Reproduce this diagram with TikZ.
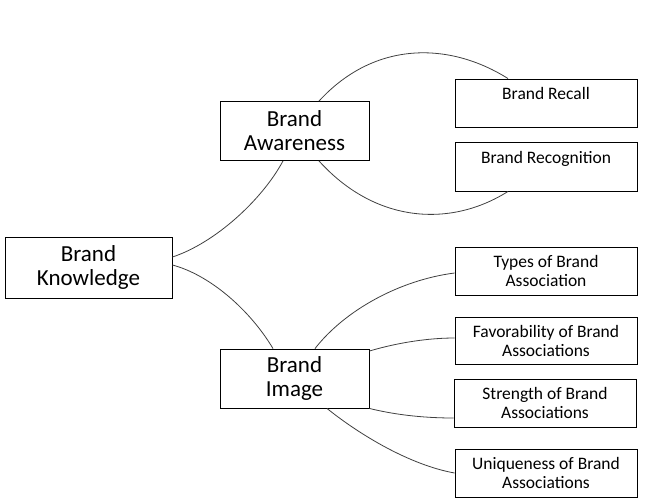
\documentclass[tikz,border=0pt]{standalone}
\usepackage{fontspec}
\setmainfont{Carlito}
\usetikzlibrary{positioning}

\begin{document}
\begin{tikzpicture}[x=1pt, y=-1pt,
        bigbox/.style={draw, line width=0.9pt, rectangle, align=center,
              minimum width=149pt, minimum height=59pt, inner sep=0pt,
              font=\fontsize{23}{24}\selectfont},
        leafbox/.style={draw, line width=0.9pt, rectangle, align=center,
              minimum width=182pt, minimum height=48pt, inner sep=0pt,
              font=\fontsize{17.5}{19}\selectfont},
        link/.style={draw=black!75, line width=0.8pt}]
        \useasboundingbox (0,0) rectangle (648,501);
        \node[bigbox, minimum width=167pt, minimum height=61pt]
            (know) at (88.5,267.5) {Brand\\Knowledge};
        \node[bigbox] (aware) at (294.5,131) {Brand\\Awareness};
        \node[bigbox] (image) at (294.5,378.5) {Brand\\Image};
        \node[leafbox] (recall) at (546,103) {Brand Recall\\~};
        \node[leafbox, minimum height=49pt]
            (recog) at (546,166.5) {Brand Recognition\\~};
        \node[leafbox] (types) at (546,271) {Types of Brand\\Association};
        \node[leafbox, minimum height=47pt]
            (favor) at (546,340.5) {Favorability of Brand\\Associations};
        \node[leafbox] (strength) at (545,403) {Strength of Brand\\Associations};
        \node[leafbox] (unique) at (546,473) {Uniqueness of Brand\\Associations};
        \draw[link] ([yshift=10.5pt]know.east)
            .. controls (215,243) and (262,200) .. ([xshift=-11.5pt]aware.south);
        \draw[link] ([yshift=2.5pt]know.east)
            .. controls (210,275) and (250,310) .. ([xshift=-21.5pt]image.north);
        \draw[link] ([xshift=24.5pt]aware.north)
            .. controls (375,40) and (450,42) .. ([xshift=-38pt]recall.north);
        \draw[link] ([xshift=24.5pt]aware.south)
            .. controls (375,223) and (450,228) .. ([xshift=-38pt]recog.south);
        \draw[link] ([xshift=20.5pt]image.north)
            .. controls (345,310) and (400,280) .. ([yshift=-2pt]types.west);
        \draw[link] ([yshift=27.5pt]image.east)
            .. controls (400,342) and (430,338) .. ([yshift=2.5pt]favor.west);
        \draw[link] (image.south east)
            .. controls (400,416) and (430,418) .. ([yshift=-15pt]strength.west);
        \draw[link] ([xshift=32.5pt]image.south)
            .. controls (360,435) and (410,465) .. (unique.west);
    \end{tikzpicture}
\end{document}
